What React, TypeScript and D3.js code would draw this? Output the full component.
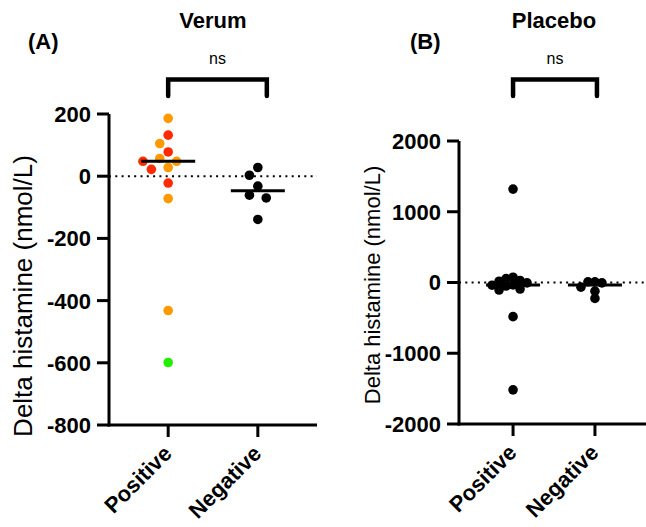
import React from 'react';
import * as d3 from 'd3';

const categories = ['Positive', 'Negative'];

// (A) Verum
const verumPositive = [186, 132, 105, 78, 57, 48, 48, 28, 22, -22, -72, -432, -599];
const verumPositiveColors = ['orange', 'red', 'orange', 'red', 'orange', 'orange', 'red', 'orange', 'red', 'red', 'orange', 'orange', 'green'];
const verumNegative = [28, 3, -32, -61, -70, -139];
const verumTicks = [200, 0, -200, -400, -600, -800];

// (B) Placebo
const placeboPositive = [1320, 75, 56, 28, 18, -5, -35, -38, -50, -92, -106, -483, -1517];
const placeboNegative = [10, 10, -5, -66, -122, -225];
const placeboTicks = [2000, 1000, 0, -1000, -2000];

const palette = { orange: '#ff9900', red: '#ff2a00', green: '#22ee00', black: '#000000' };
const font = '"Liberation Sans", Arial, sans-serif';

// simple lane-based beeswarm: each point takes the closest free lane to the centre
function swarm(values, y, step, minDist) {
    const order = values.map((v, i) => i).sort((a, b) => values[b] - values[a]);
    const placed = [];
    const out = new Array(values.length);
    order.forEach(i => {
        const py = y(values[i]);
        for (let k = 0; k < 60; k++) {
            const lane = k === 0 ? 0 : (k % 2 ? -Math.ceil(k / 2) : Math.ceil(k / 2));
            const dx = lane * step;
            if (placed.every(p => Math.hypot(p.x - dx, p.y - py) >= minDist)) {
                placed.push({ x: dx, y: py });
                out[i] = { dx, y: py };
                break;
            }
        }
    });
    return out;
}

const Panel = ({ letter, letterX, title, yDomain, yRange, ticks, xRange, groups, colors,
    step, minDist, labelX, labelY, labelSize, bracketPad }) => {
    const x = d3.scalePoint().domain(categories).range(xRange).padding(0.66);
    const y = d3.scaleLinear().domain(yDomain).range(yRange);
    const axisX = xRange[0];
    const axisY = yRange[0];
    const tickLen = 12;
    const xPos = x('Positive');
    const xNeg = x('Negative');
    const bracketMid = (xPos + xNeg + bracketPad) / 2;

    return (
        <g fontFamily={font}>
            <text x={letterX} y={49} fontSize={22} fontWeight="bold">{letter}</text>
            <text x={(xPos + xNeg) / 2} y={28} fontSize={22} fontWeight="bold" textAnchor="middle">{title}</text>
            <text x={bracketMid} y={64} fontSize={16} textAnchor="middle">ns</text>
            <path d={`M${xPos},96 V79.5 H${xNeg + bracketPad} V96`} fill="none" stroke="#000"
                strokeWidth={4.5} strokeLinecap="round" />

            {/* y axis */}
            <line x1={axisX} x2={axisX} y1={yRange[1]} y2={axisY + 1.5} stroke="#000" strokeWidth={3} />
            {ticks.map(t => (
                <g key={t}>
                    <line x1={axisX - tickLen} x2={axisX} y1={y(t)} y2={y(t)} stroke="#000" strokeWidth={3} />
                    <text x={axisX - tickLen - 6} y={y(t)} dy="0.36em" textAnchor="end" fontSize={22}
                        fontWeight="bold">{t}</text>
                </g>
            ))}
            <text transform={`translate(${labelX},${labelY}) rotate(-90)`} textAnchor="middle"
                fontSize={labelSize}>Delta histamine (nmol/L)</text>

            {/* x axis */}
            <line x1={axisX - 1.5} x2={xRange[1]} y1={axisY} y2={axisY} stroke="#000" strokeWidth={3} />
            {categories.map(c => (
                <g key={c}>
                    <line x1={x(c)} x2={x(c)} y1={axisY} y2={axisY + tickLen} stroke="#000" strokeWidth={3} />
                    <text transform={`translate(${x(c) - 6},${axisY + 19}) rotate(-45)`} textAnchor="end"
                        dy="0.7em" fontSize={22} fontWeight="bold">{c}</text>
                </g>
            ))}

            {/* zero line */}
            <line x1={axisX} x2={xRange[1]} y1={y(0)} y2={y(0)} stroke="#000" strokeWidth={2}
                strokeDasharray="2 4.3" />

            {/* points and medians */}
            {categories.map((c, gi) => {
                const vals = groups[gi];
                const pts = swarm(vals, y, step, minDist);
                const med = d3.median(vals);
                return (
                    <g key={c}>
                        {pts.map((p, i) => (
                            <circle key={i} cx={x(c) + p.dx} cy={p.y} r={4.8}
                                fill={palette[(colors[gi] && colors[gi][i]) || 'black']} />
                        ))}
                        <line x1={x(c) - 27} x2={x(c) + 27} y1={y(med)} y2={y(med)} stroke="#000"
                            strokeWidth={3} />
                    </g>
                );
            })}
        </g>
    );
};

export default function App() {
    return (
        <svg width={646} height={527} style={{ position: 'absolute', left: 0, top: 0, background: '#fff' }}>
            <Panel letter="(A)" letterX={28} title="Verum" yDomain={[-800, 200]} yRange={[425, 114]}
                ticks={verumTicks} xRange={[109, 317]} groups={[verumPositive, verumNegative]}
                colors={[verumPositiveColors, null]} step={8.4} minDist={9.6} labelX={32} labelY={296}
                labelSize={26} bracketPad={9} />
            <Panel letter="(B)" letterX={410} title="Placebo" yDomain={[-2000, 2000]} yRange={[424, 141]}
                ticks={placeboTicks} xRange={[459, 649]} groups={[placeboPositive, placeboNegative]}
                colors={[null, null]} step={7} minDist={7} labelX={380} labelY={285} labelSize={22}
                bracketPad={2} />
        </svg>
    );
}
